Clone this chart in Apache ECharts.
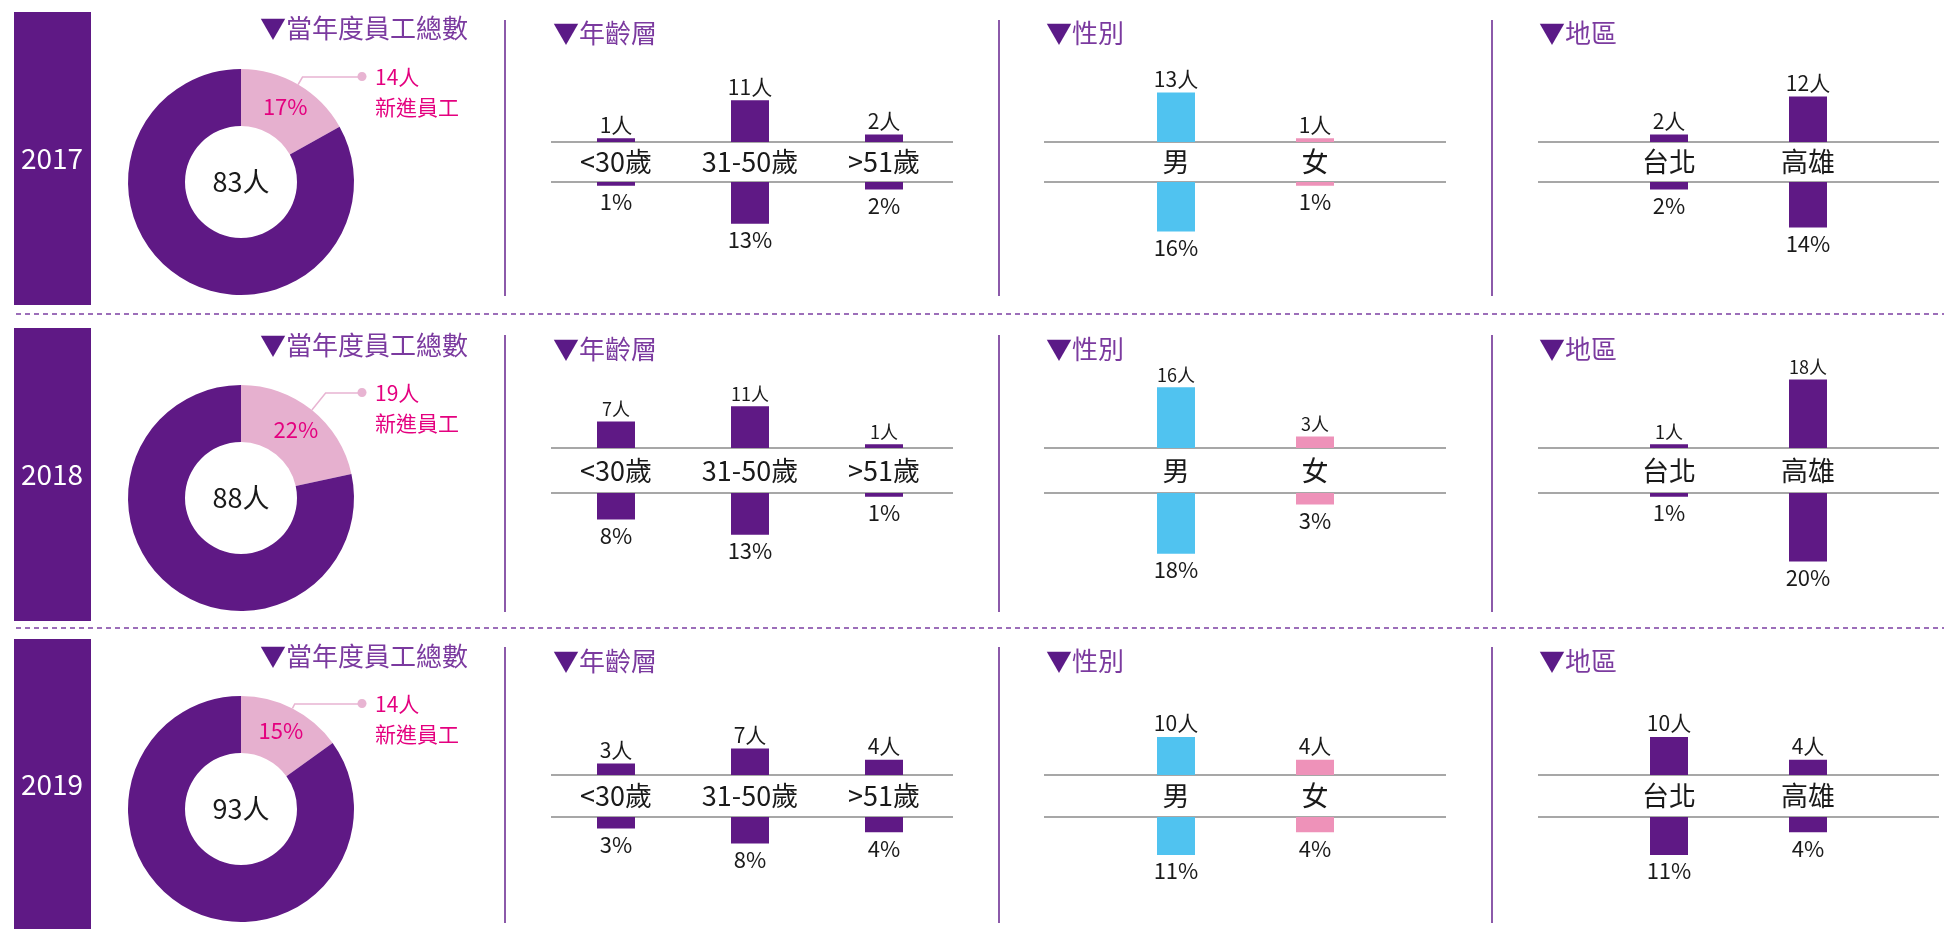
<!DOCTYPE html>
<html>
<head>
<meta charset="utf-8">
<title>員工結構</title>
<script src="https://cdn.jsdelivr.net/npm/echarts@6/dist/echarts.min.js"></script>
<style>
  html, body { margin: 0; padding: 0; background: #fff; }
  #main { width: 1944px; height: 929px; }
</style>
</head>
<body>
<div id="main"></div>
<script>
// ---- data ----
const years = ['2017', '2018', '2019']
const totalStaff = [83, 88, 93]   // 當年度員工總數
const newStaff = [14, 19, 14]     // 新進員工
const ageCats = ['<30歲', '31-50歲', '>51歲']
const ageNew = [[1, 11, 2], [7, 11, 1], [3, 7, 4]]
const sexCats = ['男', '女']
const sexNew = [[13, 1], [16, 3], [10, 4]]
const areaCats = ['台北', '高雄']
const areaNew = [[2, 12], [1, 18], [10, 4]]

// ---- styles / layout ----
const FONT = '"Noto Sans CJK TC", "Noto Sans", sans-serif'
const PURPLE = '#5f1985'
const TITLE_TRI = '#5b1a87'
const TITLE_TXT = '#7b3a9f'
const MAGENTA = '#e4007f'
const PINK_SLICE = '#e6b0cf'
const PINK_LINE = '#e8b4d2'
const TEXT = '#1a1a1a'
const BAR_SPAN = 76 // px height of a 0..20 axis
const R_IN = 56
const R_OUT = 113
const CALLOUT = [121, 105] // where the callout line ends, from donut centre (right, up)

const rows = [
  { top: 0, box: [12, 305], cy: 182, titleY: 28, subY: 33, line: [142, 182], sep: [20, 296], valSize: 21 },
  { top: 314, box: [328, 621], cy: 498, titleY: 345, subY: 349, line: [448, 493], sep: [335, 612], valSize: 18 },
  { top: 628, box: [639, 929], cy: 809, titleY: 656, subY: 661, line: [775, 817], sep: [647, 923], valSize: 21 }
]
const panels = [
  { name: '年齡層', cats: ageCats, vals: ageNew, titleX: 553, line: [551, 953], grid: [549, 402], colors: [PURPLE] },
  { name: '性別', cats: sexCats, vals: sexNew, titleX: 1046, line: [1044, 1446], grid: [1106.5, 278], colors: ['#50c3f0', '#ee92b9'] },
  { name: '地區', cats: areaCats, vals: areaNew, titleX: 1539, line: [1538, 1939], grid: [1599.5, 278], colors: [PURPLE] }
]
const sepX = [505, 999, 1492]
const dashY = [314, 628]

function titleOf(text, x, y) {
  return {
    text: '{a|▼}{b|' + text + '}',
    left: x,
    top: y - 15,
    padding: 0,
    textStyle: {
      fontWeight: 'normal',
      rich: {
        a: { fontSize: 26, color: TITLE_TRI, fontFamily: FONT, fontWeight: 'normal', lineHeight: 30 },
        b: { fontSize: 26, color: TITLE_TXT, fontFamily: FONT, fontWeight: 'normal', lineHeight: 30 }
      }
    }
  }
}

const titles = []
const grids = []
const xAxes = []
const yAxes = []
const series = []
const graphics = []

rows.forEach((row, r) => {
  // year block
  graphics.push({
    type: 'rect',
    shape: { x: 14, y: row.box[0], width: 77, height: row.box[1] - row.box[0] },
    style: { fill: PURPLE }
  })
  graphics.push({
    type: 'text',
    x: 52,
    y: (row.box[0] + row.box[1]) / 2,
    style: { text: years[r], fill: '#fff', font: '28px ' + FONT, align: 'center', verticalAlign: 'middle' }
  })
  // vertical separators
  sepX.forEach(x => {
    graphics.push({
      type: 'line',
      shape: { x1: x, y1: row.sep[0], x2: x, y2: row.sep[1] },
      style: { stroke: '#8c5aaa', lineWidth: 2 }
    })
  })

  // donut
  titles.push(titleOf('當年度員工總數', 260, row.titleY))
  const pieBase = {
    type: 'pie',
    left: 0,
    top: row.top,
    width: 480,
    height: 300,
    center: [241, row.cy - row.top],
    radius: [R_IN, R_OUT],
    startAngle: 90,
    silent: true,
    avoidLabelOverlap: false,
    labelLine: { show: false }
  }
  // callout line: bend at the callout height, then run flat to the callout end
  const half = Math.PI * newStaff[r] / totalStaff[r]
  const len1 = Math.max(4, CALLOUT[1] / Math.cos(half) - R_OUT)
  const len2 = Math.max(10, CALLOUT[0] - (R_OUT + len1) * Math.sin(half))

  series.push(Object.assign({}, pieBase, {
    label: { show: false },
    data: [
      {
        value: newStaff[r],
        name: '新進員工',
        itemStyle: { color: PINK_SLICE },
        label: {
          show: true, position: 'inside', fontSize: 22, color: MAGENTA, fontFamily: FONT,
          formatter: p => Math.round(p.percent) + '%'
        }
      },
      { value: totalStaff[r] - newStaff[r], name: '其他員工', itemStyle: { color: PURPLE } }
    ]
  }))
  series.push(Object.assign({}, pieBase, {
    itemStyle: { color: 'rgba(0,0,0,0)' },
    label: { show: false },
    data: [
      {
        value: newStaff[r],
        name: '新進員工',
        label: {
          show: true,
          position: 'outside',
          alignTo: 'none',
          distanceToLabelLine: -5,
          padding: [30, 0, 0, 0],
          formatter: p => '{dot|●}{num|' + p.value + '人}\n{pad| }{txt|新進員工}',
          rich: {
            dot: { fontSize: 10, color: PINK_LINE, width: 18, align: 'left', lineHeight: 30 },
            num: { fontSize: 21, color: MAGENTA, fontFamily: FONT, align: 'left', lineHeight: 30 },
            pad: { width: 18, align: 'left', lineHeight: 30 },
            txt: { fontSize: 21, color: MAGENTA, fontFamily: FONT, align: 'left', lineHeight: 30 }
          }
        },
        labelLine: { show: true, length: len1, length2: len2, lineStyle: { color: PINK_LINE, width: 1.5 } }
      },
      {
        value: totalStaff[r] - newStaff[r],
        name: '其他員工',
        label: {
          show: true, position: 'center', fontSize: 27, color: TEXT, fontFamily: FONT,
          formatter: () => totalStaff[r] + '人'
        }
      }
    ]
  }))

  // bar panels
  panels.forEach(pn => {
    titles.push(titleOf(pn.name, pn.titleX, row.subY))
    row.line.forEach(y => {
      graphics.push({
        type: 'line',
        shape: { x1: pn.line[0], y1: y, x2: pn.line[1], y2: y },
        style: { stroke: '#8a8a8a', lineWidth: 1.5 }
      })
    })
    const colorFn = p => pn.colors[p.dataIndex % pn.colors.length]

    // upper: head count
    let gi = grids.length
    grids.push({ left: pn.grid[0], width: pn.grid[1], top: row.line[0] - BAR_SPAN, height: BAR_SPAN })
    xAxes.push({
      type: 'category', gridIndex: gi, data: pn.cats,
      axisLine: { show: false }, axisTick: { show: false },
      axisLabel: {
        fontSize: 27, color: TEXT, fontFamily: FONT, verticalAlign: 'middle', lineHeight: 30,
        margin: (row.line[1] - row.line[0]) / 2
      }
    })
    yAxes.push({ type: 'value', gridIndex: gi, min: 0, max: 20, show: false })
    series.push({
      type: 'bar', xAxisIndex: gi, yAxisIndex: gi, data: pn.vals[r], barWidth: 38, silent: true,
      itemStyle: { color: colorFn },
      label: {
        show: true, position: 'top', distance: 3, fontSize: row.valSize, color: TEXT, fontFamily: FONT,
        formatter: p => p.value + '人'
      }
    })

    // lower: share of all staff
    gi = grids.length
    grids.push({ left: pn.grid[0], width: pn.grid[1], top: row.line[1], height: BAR_SPAN })
    xAxes.push({ type: 'category', gridIndex: gi, data: pn.cats, position: 'top', show: false })
    yAxes.push({ type: 'value', gridIndex: gi, min: 0, max: 20, inverse: true, show: false })
    series.push({
      type: 'bar', xAxisIndex: gi, yAxisIndex: gi, data: pn.vals[r], barWidth: 38, silent: true,
      itemStyle: { color: colorFn },
      label: {
        show: true, position: 'bottom', distance: 5, fontSize: 22, color: TEXT, fontFamily: FONT,
        formatter: p => Math.round(p.value / totalStaff[r] * 100) + '%'
      }
    })
  })
})

dashY.forEach(y => {
  graphics.push({
    type: 'line',
    shape: { x1: 16, y1: y, x2: 1944, y2: y },
    style: { stroke: '#7c3fa3', lineWidth: 1.5, lineDash: [5, 4] }
  })
})

const chart = echarts.init(document.getElementById('main'))
chart.setOption({
  animation: false,
  backgroundColor: '#fff',
  textStyle: { fontFamily: FONT },
  title: titles,
  grid: grids,
  xAxis: xAxes,
  yAxis: yAxes,
  graphic: graphics,
  series: series
})
</script>
</body>
</html>
